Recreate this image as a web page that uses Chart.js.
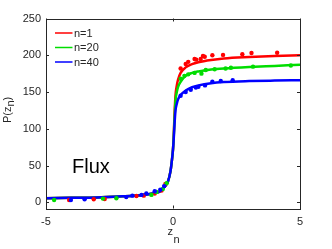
<!DOCTYPE html>
<html>
<head>
<meta charset="utf-8">
<script src="https://cdn.jsdelivr.net/npm/chart.js@4.4.1/dist/chart.umd.min.js"></script>
<style>
  html, body { margin: 0; padding: 0; background: #fff; }
  #plot { display: block; }
</style>
</head>
<body>
<canvas id="plot" width="332" height="249"></canvas>
<script>
// 곡선 x 좌표 (z_n)
const zGrid = [-5, -4, -3, -2, -1.5, -1, -0.7, -0.5, -0.33, -0.2, -0.1, -0.05, 0, 0.03, 0.06, 0.1, 0.15, 0.2, 0.3, 0.5, 0.75, 1, 1.5, 2, 3, 4, 5];

// 적합 곡선 P(z_n)
const fitN1 = [5.5, 6, 6.5, 8, 9, 11, 12.5, 15, 21, 28, 42, 55, 72, 92, 120, 146, 159, 167, 176, 183.5, 188, 190.5, 193.5, 195.5, 197.5, 199, 200];
const fitN20 = [5.5, 6, 6.5, 8, 9, 11, 12.5, 15, 21, 28, 42, 55, 72, 90, 114, 139, 150, 157, 164, 172, 176, 178, 180.5, 182, 184, 185.5, 187];
const fitN40 = [5.5, 6, 6.5, 8, 9, 11, 12.5, 15, 21, 28, 42, 55, 72, 87, 106, 125, 134, 140, 146, 152, 156.5, 159, 162, 163.5, 164.8, 165.5, 166];

// 측정 점
const dotsN1X = [-4.09, -3.12, -2.69, -1.44, -1.15, -0.72, -0.45, -0.3, 0.3, 0.5, 0.6, 0.85, 0.92, 1.09, 1.18, 1.25, 1.55, 1.97, 2.73, 3.09, 4.1];
const dotsN1Y = [3, 4, 4.5, 8.5, 9, 12, 16, 25, 182, 188, 191, 195, 194, 195, 199, 198, 200, 200.5, 201.5, 203, 203.5];
const dotsN20X = [-4.68, -2.76, -2.23, -0.85, -0.65, -0.4, -0.25, 0.3, 0.45, 0.6, 0.85, 1.12, 1.29, 1.64, 2.07, 2.28, 3.15, 4.64];
const dotsN20Y = [3, 5, 5.4, 10, 14, 18, 26, 168, 172, 174, 176, 175, 180, 181, 182, 183, 184.5, 186];
const dotsN40X = [-4.02, -3.48, -1.84, -1.6, -1.24, -1.05, -0.72, -0.5, -0.35, 0.3, 0.5, 0.7, 0.9, 1.0, 1.26, 1.55, 1.88, 2.35];
const dotsN40Y = [3, 4, 7, 9, 10, 12, 15, 17, 22, 145, 150, 153, 156, 157, 159, 164, 165, 166];

// 축 눈금
const xTicks = [-5, 0, 5];
const yTicks = [0, 50, 100, 150, 200, 250];

const seriesNames = ["n=1", "n=20", "n=40"];
const seriesColors = ["#ff0000", "#00dd00", "#0000ff"];

const AXIS_COLOR = "#262626";
const FONT = "'Liberation Sans', Arial, sans-serif";

function toPoints(xs, ys) {
  return xs.map((x, i) => ({ x: x, y: ys[i] }));
}

function lineSet(label, ys, color, order) {
  return {
    label: label,
    data: toPoints(zGrid, ys),
    showLine: true,
    borderColor: color,
    borderWidth: 2.5,
    pointRadius: 0,
    cubicInterpolationMode: "monotone",
    order: order,
  };
}

function dotSet(xs, ys, color, order) {
  return {
    label: "",
    data: toPoints(xs, ys),
    showLine: false,
    pointRadius: 2.2,
    pointBorderWidth: 0,
    pointBackgroundColor: color,
    order: order,
  };
}

// 테두리, 안쪽 눈금, 범례, 라벨
const decorPlugin = {
  id: "decor",
  afterDatasetsDraw(chart) {
    const { ctx, chartArea: a, scales } = chart;
    ctx.save();
    ctx.strokeStyle = AXIS_COLOR;
    ctx.lineWidth = 1;
    ctx.strokeRect(Math.round(a.left) + 0.5, Math.round(a.top) + 0.5, Math.round(a.right - a.left), Math.round(a.bottom - a.top));

    ctx.beginPath();
    xTicks.forEach((v) => {
      const px = Math.round(scales.x.getPixelForValue(v)) + 0.5;
      ctx.moveTo(px, a.bottom); ctx.lineTo(px, a.bottom - 3);
      ctx.moveTo(px, a.top); ctx.lineTo(px, a.top + 3);
    });
    yTicks.forEach((v) => {
      const py = Math.round(scales.y.getPixelForValue(v)) + 0.5;
      ctx.moveTo(a.left, py); ctx.lineTo(a.left + 3, py);
      ctx.moveTo(a.right, py); ctx.lineTo(a.right - 3, py);
    });
    ctx.stroke();

    // 범례
    ctx.font = "11px " + FONT;
    ctx.textBaseline = "middle";
    ctx.textAlign = "left";
    seriesNames.forEach((name, i) => {
      const y = 33 + i * 14.5;
      ctx.strokeStyle = seriesColors[i];
      ctx.lineWidth = 1.5;
      ctx.beginPath();
      ctx.moveTo(55, y); ctx.lineTo(72.5, y);
      ctx.stroke();
      ctx.fillStyle = AXIS_COLOR;
      ctx.fillText(name, 74, y + 0.5);
    });

    // Flux
    ctx.fillStyle = "#000";
    ctx.font = "20px " + FONT;
    ctx.textBaseline = "alphabetic";
    ctx.fillText("Flux", 72, 173);

    // x 축 제목 z_n
    ctx.fillStyle = AXIS_COLOR;
    ctx.font = "11px " + FONT;
    ctx.fillText("z", 167.5, 235);
    ctx.fillText("n", 173.5, 243);

    // y 축 제목 P(z_n)
    ctx.translate(10.5, 111);
    ctx.rotate(-Math.PI / 2);
    ctx.textAlign = "left";
    let x = -12;
    ctx.fillText("P(z", x, 0);
    x += ctx.measureText("P(z").width;
    ctx.fillText("n", x, 3.5);
    x += ctx.measureText("n").width;
    ctx.fillText(")", x, 0);
    ctx.restore();
  },
};

const chart = new Chart(document.getElementById("plot"), {
  type: "scatter",
  data: {
    datasets: [
      lineSet(seriesNames[0], fitN1, seriesColors[0], 5),
      lineSet(seriesNames[1], fitN20, seriesColors[1], 4),
      lineSet(seriesNames[2], fitN40, seriesColors[2], 3),
      dotSet(dotsN1X, dotsN1Y, seriesColors[0], 2),
      dotSet(dotsN20X, dotsN20Y, seriesColors[1], 1),
      dotSet(dotsN40X, dotsN40Y, seriesColors[2], 0),
    ],
  },
  options: {
    responsive: false,
    animation: false,
    devicePixelRatio: 1,
    layout: { padding: { left: 0, right: 32, top: 18.5, bottom: 0 } },
    plugins: { legend: { display: false }, tooltip: { enabled: false } },
    scales: {
      x: {
        type: "linear",
        min: -5,
        max: 5,
        grid: { display: false, drawTicks: false, tickLength: 0 },
        border: { display: false },
        ticks: {
          stepSize: 5,
          includeBounds: false,
          padding: 7,
          color: AXIS_COLOR,
          font: { family: FONT, size: 11 },
          maxRotation: 0,
        },
        afterFit(scale) { scale.height = 40.5; },
      },
      y: {
        min: -8.5,
        max: 250,
        grid: { display: false, drawTicks: false, tickLength: 0 },
        border: { display: false },
        ticks: {
          stepSize: 50,
          includeBounds: false,
          padding: 5,
          color: AXIS_COLOR,
          font: { family: FONT, size: 11 },
        },
        afterFit(scale) { scale.width = 46; },
      },
    },
  },
  plugins: [decorPlugin],
});
</script>
</body>
</html>
